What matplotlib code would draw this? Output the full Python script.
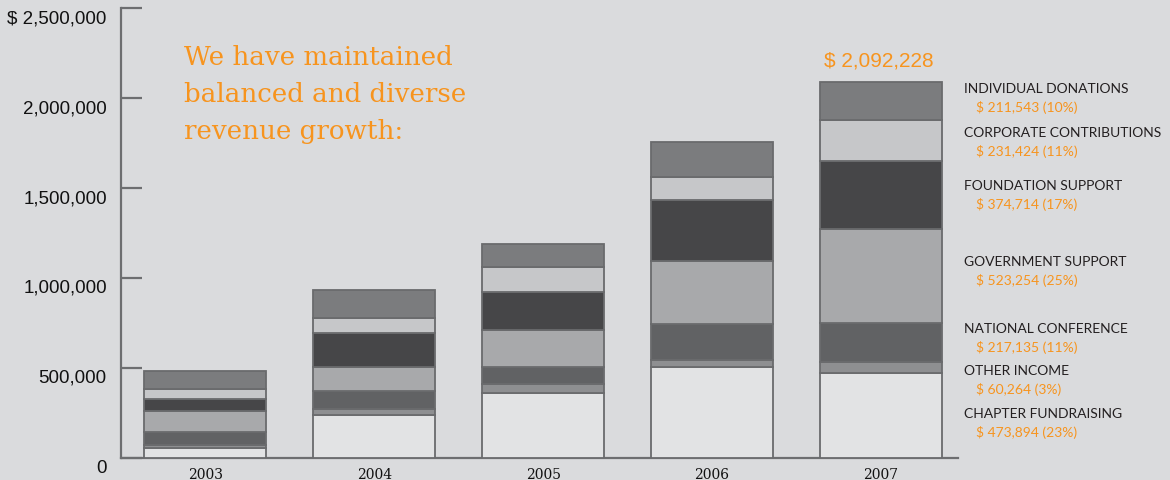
import numpy as np
import matplotlib
matplotlib.use("Agg")
import matplotlib.pyplot as plt
import matplotlib.transforms as mtransforms
from matplotlib.ticker import FuncFormatter

# -------- DATA --------
years = ["2003", "2004", "2005", "2006", "2007"]

# stacked from the bottom up
categories = ["CHAPTER FUNDRAISING", "OTHER INCOME", "NATIONAL CONFERENCE",
              "GOVERNMENT SUPPORT", "FOUNDATION SUPPORT",
              "CORPORATE CONTRIBUTIONS", "INDIVIDUAL DONATIONS"]

chapter = [56000, 239000, 361000, 502000, 473894]
other = [15000, 30000, 47000, 44000, 60264]
national = [70000, 103000, 98000, 200000, 217135]
government = [120000, 130000, 204000, 346000, 523254]
foundation = [65000, 194000, 211000, 339000, 374714]
corporate = [56000, 83000, 139000, 129000, 231424]
individual = [102000, 156000, 128000, 198000, 211543]

legend_values = ["$ 473,894 (23%)", "$ 60,264 (3%)", "$ 217,135 (11%)",
                 "$ 523,254 (25%)", "$ 374,714 (17%)", "$ 231,424 (11%)",
                 "$ 211,543 (10%)"]
total_label = "$ 2,092,228"

yticks = [0, 500000, 1000000, 1500000, 2000000, 2500000]

# -------- STYLE --------
colors = ["#e2e3e4", "#8e8f91", "#616264", "#a8a9ab", "#464648", "#c6c7c9", "#7b7c7e"]
edge = "#6a6b6d"
orange = "#f7941e"
bg = "#dadbdd"

fig = plt.figure(figsize=(11.7, 4.8), dpi=100, facecolor=bg)
ax = fig.add_axes([120.7 / 1170, 1 - 457.7 / 480, (957.7 - 120.7) / 1170, (457.7 - 8.3) / 480])
ax.set_facecolor("none")

series = [chapter, other, national, government, foundation, corporate, individual]
x = np.arange(len(years))
bottom = np.zeros(len(years))
for vals, c in zip(series, colors):
    ax.bar(x, vals, width=0.722, bottom=bottom, color=c, edgecolor=edge,
           linewidth=1.3, zorder=3)
    bottom += np.array(vals)

ax.set_xlim(-0.5, 4.454)
ax.set_ylim(0, 2500000)

for s in ["top", "right"]:
    ax.spines[s].set_visible(False)
for s in ["left", "bottom"]:
    ax.spines[s].set_color("#6d6e70")
    ax.spines[s].set_linewidth(1.6)

ax.set_yticks(yticks)
ax.yaxis.set_major_formatter(FuncFormatter(
    lambda v, p: "$ {:,.0f}".format(v) if v == 2500000 else ("0" if v == 0 else "{:,.0f}".format(v))))
ax.tick_params(axis="y", direction="in", length=15, width=1.6, color="#6d6e70",
               pad=10, labelsize=13.5, labelcolor="#111111")
ax.set_xticks(x)
ax.set_xticklabels(years)
ax.tick_params(axis="x", length=0, pad=7.5, labelsize=10, labelcolor="#111111")

for lab in ax.get_yticklabels():
    lab.set_fontfamily("Liberation Sans")
    lab.set_transform(lab.get_transform() + mtransforms.ScaledTranslation(0, -8.5 / 100, fig.dpi_scale_trans))
for lab in ax.get_xticklabels():
    lab.set_fontfamily("DejaVu Serif")

# total above the last bar
ax.annotate(total_label, (x[-1], bottom[-1]), xytext=(-1.5, 14.5), textcoords="offset points",
            ha="center", va="center", color=orange, fontsize=15, family="Liberation Sans")

# headline
title_lines = ["We have maintained", "balanced and diverse", "revenue growth:"]
for i, line in enumerate(title_lines):
    fig.text(184 / 1170, 1 - (65 + i * 36.8) / 480, line, ha="left", va="baseline",
             color=orange, fontsize=18.8, family="DejaVu Serif")

# side legend (top entry first)
name_y = [414, 371, 328.7, 261.7, 185.7, 132.7, 89]
for name, val, yy in zip(categories, legend_values, name_y):
    fig.text(964 / 1170, 1 - yy / 480, name, ha="left", va="center",
             color="#231f20", fontsize=10, family="Lato")
    fig.text(976 / 1170, 1 - (yy + 18.5) / 480, val, ha="left", va="center",
             color=orange, fontsize=10, family="Lato")

fig.savefig("out.png", dpi=100, facecolor=bg)
